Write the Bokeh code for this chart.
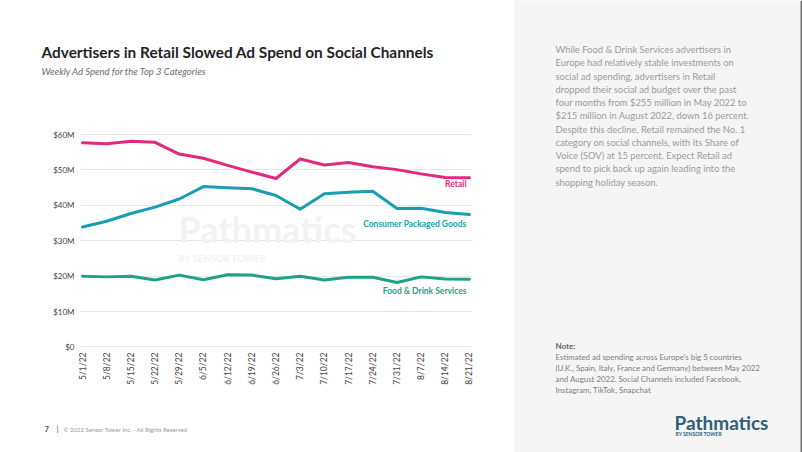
import math
from bokeh.plotting import figure
from bokeh.models import Range1d, FixedTicker, Label, BoxAnnotation
from bokeh.layouts import row, column
from bokeh.embed import file_html
from bokeh.resources import INLINE

# ---------------- data ----------------
dates = ["5/1/22", "5/8/22", "5/15/22", "5/22/22", "5/29/22", "6/5/22", "6/12/22",
         "6/19/22", "6/26/22", "7/3/22", "7/10/22", "7/17/22", "7/24/22", "7/31/22",
         "8/7/22", "8/14/22", "8/21/22"]
retail = [57.7, 57.4, 58.1, 57.8, 54.5, 53.3, 51.3, 49.4, 47.6, 53.1, 51.4, 52.1,
          50.9, 50.1, 48.9, 47.9, 47.8]
cpg = [33.9, 35.5, 37.7, 39.5, 41.8, 45.3, 45.0, 44.7, 42.8, 38.9, 43.3, 43.7,
       44.0, 39.1, 39.2, 38.0, 37.4]
food = [20.0, 19.8, 20.0, 18.9, 20.3, 19.0, 20.4, 20.3, 19.3, 20.0, 18.9, 19.7,
        19.7, 18.2, 19.8, 19.2, 19.1]
series_names = ["Retail", "Consumer Packaged Goods", "Food & Drink Services"]
y_ticks = [0, 10, 20, 30, 40, 50, 60]
y_tick_labels = ["$0", "$10M", "$20M", "$30M", "$40M", "$50M", "$60M"]

title_text = "Advertisers in Retail Slowed Ad Spend on Social Channels"
subtitle_text = "Weekly Ad Spend for the Top 3 Categories"
body_lines = [
    "While Food & Drink Services advertisers in",
    "Europe had relatively stable investments on",
    "social ad spending, advertisers in Retail",
    "dropped their social ad budget over the past",
    "four months from $255 million in May 2022 to",
    "$215 million in August 2022, down 16 percent.",
    "Despite this decline, Retail remained the No. 1",
    "category on social channels, with its Share of",
    "Voice (SOV) at 15 percent. Expect Retail ad",
    "spend to pick back up again leading into the",
    "shopping holiday season.",
]
note_lines = [
    "Estimated ad spending across Europe's big 5 countries",
    "(U.K., Spain, Italy, France and Germany) between May 2022",
    "and August 2022. Social Channels included Facebook,",
    "Instagram, TikTok, Snapchat",
]

FONT = "Lato"
C_RETAIL = "#e0297f"
C_CPG = "#1a9db2"
C_FOOD = "#1ba386"
colors = [C_RETAIL, C_CPG, C_FOOD]
PANEL = "#f5f5f5"


def no_align(fig):
    if "frame_align" in fig.properties():
        fig.frame_align = False


def blank(width, height, x0, x1, y0, y1, fill):
    f = figure(width=width, height=height, output_backend="svg", toolbar_location=None,
               x_range=Range1d(x0, x1), y_range=Range1d(y1, y0),
               x_axis_type=None, y_axis_type=None, min_border=0)
    f.outline_line_color = None
    f.background_fill_color = fill
    f.border_fill_color = fill
    f.grid.visible = False
    no_align(f)
    return f


# ---------------- header (page y 0..110) ----------------
h = blank(514, 110, 0, 514, 0, 110, "white")
h.add_layout(Label(x=41, y=51.5, text=title_text, text_font=FONT, text_font_style="bold",
                   text_font_size="15.4px", text_color="#1f2328", text_baseline="middle"))
h.add_layout(Label(x=41, y=70.5, text=subtitle_text, text_font=FONT, text_font_style="italic",
                   text_font_size="9.5px", text_color="#6b6b6b", text_baseline="middle"))

# ---------------- chart (page y 110..410) ----------------
x = list(range(len(dates)))
p = figure(width=514, height=300, output_backend="svg", toolbar_location=None,
           x_range=Range1d(-0.083, len(dates) - 1 + 0.083), y_range=Range1d(-1, 62),
           min_border_left=80, min_border_right=43, min_border_top=17, min_border_bottom=60)
no_align(p)
p.outline_line_color = None
p.background_fill_color = "white"
p.border_fill_color = "white"

p.xgrid.grid_line_color = None
p.ygrid.grid_line_color = "#e6e6e6"
p.ygrid.ticker = FixedTicker(ticks=y_ticks)

p.yaxis.ticker = FixedTicker(ticks=y_ticks)
p.yaxis.major_label_overrides = {t: l for t, l in zip(y_ticks, y_tick_labels)}
p.xaxis.ticker = FixedTicker(ticks=x)
p.xaxis.major_label_overrides = {i: d for i, d in zip(x, dates)}
p.xaxis.major_label_orientation = math.pi / 2
for ax in (p.xaxis, p.yaxis):
    ax.axis_line_color = None
    ax.major_tick_line_color = None
    ax.minor_tick_line_color = None
    ax.major_tick_out = 0
    ax.major_tick_in = 0
    ax.major_label_text_font = FONT
    ax.major_label_text_color = "#444444"
p.xaxis.major_label_text_font_size = "8.5px"
p.yaxis.major_label_text_font_size = "8px"
p.xaxis.major_label_standoff = 2
p.yaxis.major_label_standoff = 6

# watermark (screen units relative to the frame)
p.add_layout(Label(x=98, y=121.5, x_units="screen", y_units="screen", text="Pathmatics",
                   text_font=FONT, text_font_style="bold", text_font_size="36px",
                   text_color="#f2f2f2", text_baseline="middle", level="underlay"))
p.add_layout(Label(x=98, y=92, x_units="screen", y_units="screen", text="BY SENSOR TOWER",
                   text_font=FONT, text_font_style="bold", text_font_size="9.5px",
                   text_color="#f2f2f2", text_baseline="middle", level="underlay"))

for vals, col in zip([retail, cpg, food], colors):
    p.line(x, vals, line_color=col, line_width=3, line_join="round", line_cap="round")

offsets = [-6, -9, -12]
for vals, col, name, off in zip([retail, cpg, food], colors, series_names, offsets):
    p.add_layout(Label(x=x[-1], y=vals[-1], x_offset=-3, y_offset=off, text=name,
                       text_align="right", text_baseline="middle", text_font=FONT,
                       text_font_style="bold", text_font_size="8.5px", text_color=col))

# ---------------- footer (page y 410..452) ----------------
f = blank(514, 42, 0, 514, 410, 452, "white")
f.add_layout(Label(x=44, y=428.5, text="7", text_font=FONT, text_font_style="bold",
                   text_font_size="7.5px", text_color="#2e6079", text_baseline="middle"))
f.add_layout(Label(x=56, y=428, text="|", text_font=FONT, text_font_size="8px",
                   text_color="#2e6079", text_baseline="middle"))
f.add_layout(Label(x=63, y=428.5, text="\u00a9 2022 Sensor Tower Inc. - All Rights Reserved",
                   text_font=FONT, text_font_size="6px", text_color="#8aa0ae",
                   text_baseline="middle"))

# ---------------- right panel (page x 514..802) ----------------
q = blank(288, 452, 514, 802, 0, 452, PANEL)
q.add_layout(BoxAnnotation(left=800, right=802, fill_color="#707070", fill_alpha=1,
                           line_color=None))
for i, line in enumerate(body_lines):
    q.add_layout(Label(x=555, y=49 + i * 13.27, text=line, text_font=FONT,
                       text_font_size="9.4px", text_color="#9b9b9b", text_baseline="middle"))

q.add_layout(Label(x=555, y=345, text="Note:", text_font=FONT, text_font_style="bold",
                   text_font_size="8px", text_color="#666666", text_baseline="middle"))
for i, line in enumerate(note_lines):
    q.add_layout(Label(x=555, y=356 + i * 11.2, text=line, text_font=FONT,
                       text_font_size="7.9px", text_color="#808080", text_baseline="middle"))

q.add_layout(Label(x=674, y=422, text="Pathmatics", text_font=FONT, text_font_style="bold",
                   text_font_size="19px", text_color="#2e6079", text_baseline="middle"))
q.add_layout(Label(x=675, y=433.5, text="BY SENSOR TOWER", text_font=FONT, text_font_style="bold",
                   text_font_size="5px", text_color="#2e6079", text_baseline="middle"))

layout = row(column(h, p, f), q)
open("out.html", "w").write(file_html(layout, INLINE))
